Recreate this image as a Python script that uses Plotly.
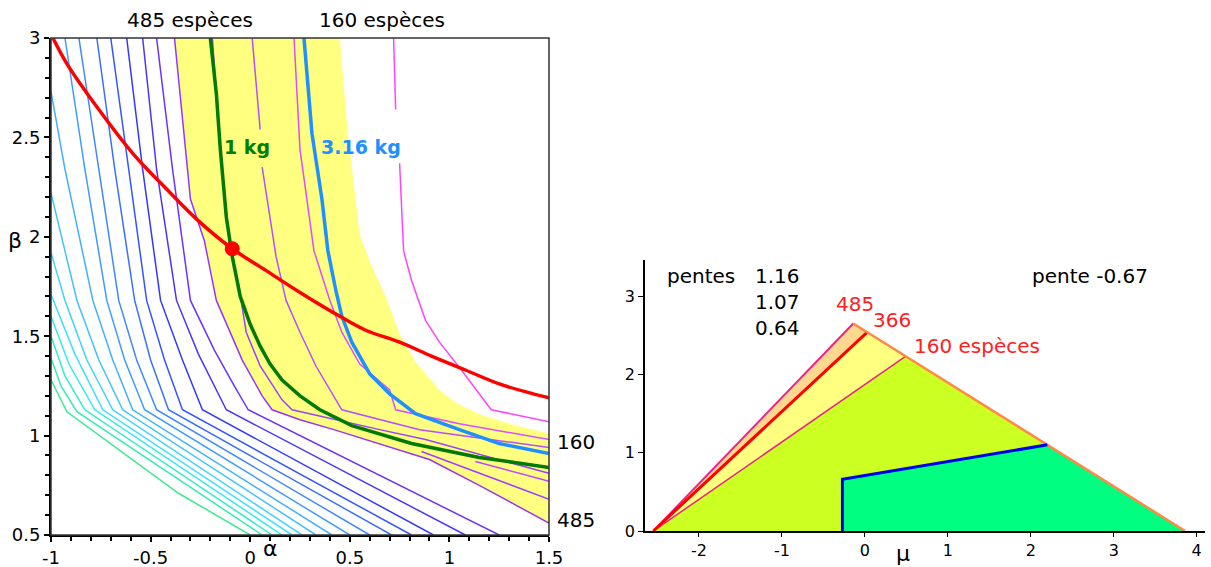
import plotly.graph_objects as go

W, H = 1211, 567

# ---------------- left panel data (alpha, beta) ----------------
contour_alpha = [
    [-1.00, -0.92, -0.36, 0.00],
    [-1.00, -0.95, -0.87, 0.06],
    [-1.00, -0.93, -0.83, 0.11],
    [-1.00, -0.91, -0.78, 0.16],
    [-1.00, -0.88, -0.74, 0.21],
    [-1.00, -0.93, -0.82, -0.69, 0.26],
    [-1.00, -0.87, -0.76, -0.64, 0.33],
    [-1.00, -0.93, -0.79, -0.69, -0.59, 0.41],
    [-0.93, -0.83, -0.72, -0.63, -0.53, 0.50],
    [-0.86, -0.76, -0.66, -0.57, -0.47, 0.60],
    [-0.77, -0.68, -0.58, -0.50, -0.41, 0.71],
    [-0.70, -0.61, -0.52, -0.43, -0.34, 0.81],
    [-0.62, -0.54, -0.45, -0.34, -0.24, 0.92],
    [-0.54, -0.47, -0.37, -0.26, -0.12, 1.08],
    [-0.47, -0.39, -0.30, -0.18, -0.08, -0.01, 1.25],
    [-0.38, -0.34, -0.30, -0.23, -0.17, -0.04, 0.06, 0.11, 0.25, 0.42, 0.90, 1.15, 1.50],
    [-0.19, -0.15, -0.10, -0.06, -0.02, 0.05, 0.16, 0.21, 0.65, 0.88, 1.50],
    [0.01, 0.05, None, 0.06, 0.13, 0.18, 0.25, 0.33, 0.46, 0.85, 1.50],
    [0.22, 0.25, 0.32, 0.40, 0.46, 0.55, 0.70, 0.73, 1.05, 1.50],
    [0.72, 0.73, None, 0.75, 0.77, 0.81, 0.88, 0.95, 1.06, 1.21, 1.50],
    [0.86, 1.50],
    [1.13, 1.50],
]
contour_beta = [
    [1.28, 1.12, 0.71, 0.50],
    [1.39, 1.25, 1.12, 0.50],
    [1.50, 1.30, 1.13, 0.50],
    [1.60, 1.36, 1.13, 0.50],
    [1.71, 1.41, 1.13, 0.50],
    [1.92, 1.68, 1.38, 1.13, 0.50],
    [2.22, 1.68, 1.38, 1.13, 0.50],
    [2.73, 2.34, 1.68, 1.38, 1.13, 0.50],
    [3.00, 2.34, 1.68, 1.38, 1.13, 0.50],
    [3.00, 2.34, 1.68, 1.38, 1.13, 0.50],
    [3.00, 2.34, 1.68, 1.38, 1.13, 0.50],
    [3.00, 2.34, 1.68, 1.38, 1.13, 0.50],
    [3.00, 2.34, 1.68, 1.38, 1.13, 0.50],
    [3.00, 2.34, 1.68, 1.41, 1.13, 0.50],
    [3.00, 2.34, 1.68, 1.43, 1.25, 1.13, 0.50],
    [3.00, 2.59, 2.19, 1.98, 1.68, 1.38, 1.20, 1.13, 1.08, 1.03, 0.88, 0.75, 0.56],
    [3.00, 2.44, 1.93, 1.77, 1.52, 1.35, 1.18, 1.13, 1.03, 0.98, 0.81],
    [3.00, 2.54, None, 2.35, 1.90, 1.68, 1.52, 1.35, 1.13, 1.03, 0.94],
    [3.00, 2.44, 1.93, 1.68, 1.52, 1.36, 1.23, 1.13, 1.06, 0.98],
    [3.00, 2.64, None, 2.37, 1.93, 1.78, 1.58, 1.47, 1.33, 1.13, 1.07],
    [0.92, 0.68],
    [0.87, 0.77],
]
contour_colors = [
    "#40E890", "#38EAB0", "#33EBCC", "#33EBEB", "#3AE0FF", "#3ED2FF",
    "#3FC2FF", "#3FB0FF", "#3F9CFF", "#3F88FF", "#3A70FF", "#3355FF",
    "#3338FF", "#4A33FF", "#6A33FF", "#9933FF", "#9A40FF", "#B84CFF",
    "#DD4CFF", "#FF44FF", "#A040FF", "#C044FF",
]

band_lower_alpha = [-0.38, -0.34, -0.30, -0.23, -0.17, -0.04, 0.06, 0.11, 0.25, 0.42, 0.90, 1.15, 1.50]
band_lower_beta = [3.00, 2.59, 2.19, 1.98, 1.68, 1.38, 1.20, 1.13, 1.08, 1.03, 0.88, 0.75, 0.56]
band_upper_alpha = [0.45, 0.49, 0.55, 0.61, 0.68, 0.75, 0.83, 0.95, 1.04, 1.17, 1.34, 1.50]
band_upper_beta = [3.00, 2.52, 2.01, 1.85, 1.70, 1.51, 1.37, 1.23, 1.16, 1.10, 1.05, 1.01]

kg1_alpha = [-0.20, -0.17, -0.15, -0.12, -0.09, -0.05, 0.00, 0.05, 0.10, 0.16, 0.25, 0.35, 0.51, 0.81, 1.15, 1.50]
kg1_beta = [3.00, 2.72, 2.44, 2.10, 1.90, 1.70, 1.56, 1.45, 1.36, 1.28, 1.20, 1.13, 1.05, 0.96, 0.89, 0.84]
kg316_alpha = [0.27, 0.31, 0.36, 0.39, 0.43, 0.46, 0.51, 0.60, 0.70, 0.83, 1.05, 1.25, 1.50]
kg316_beta = [3.00, 2.52, 2.19, 1.93, 1.73, 1.60, 1.47, 1.31, 1.21, 1.11, 1.03, 0.96, 0.91]
red_alpha = [-0.99, -0.92, -0.76, -0.59, -0.42, -0.26, -0.09, 0.08, 0.25, 0.45, 0.58, 0.75, 0.91, 1.08, 1.25, 1.42, 1.50]
red_beta = [3.00, 2.87, 2.64, 2.42, 2.24, 2.08, 1.94, 1.83, 1.72, 1.60, 1.53, 1.47, 1.40, 1.33, 1.26, 1.21, 1.19]
optimum = (-0.09, 1.94)

alpha_ticks = [-1, -0.5, 0, 0.5, 1, 1.5]
alpha_labels = ["-1", "-0.5", "0", "0.5", "1", "1.5"]
beta_ticks = [0.5, 1, 1.5, 2, 2.5, 3]
beta_labels = ["0.5", "1", "1.5", "2", "2.5", "3"]

# ---------------- right panel data (mu, height) ----------------
left_vertex = (-2.55, 0.0)
apex_485 = (-0.14, 2.65)
point_366 = (0.03, 2.54)
point_160 = (0.49, 2.23)
right_vertex = (3.86, 0.0)
blue_mu = [-0.27, -0.27, 2.20]
blue_h = [0.00, 0.66, 1.10]
mu_ticks = [-2, -1, 0, 1, 2, 3, 4]
mu_labels = ["-2", "-1", "0", "1", "2", "3", "4"]
h_ticks = [0, 1, 2, 3]
h_labels = ["0", "1", "2", "3"]

fig = go.Figure()

# yellow band
fig.add_trace(go.Scatter(
    x=band_lower_alpha + band_upper_alpha[::-1],
    y=band_lower_beta + band_upper_beta[::-1],
    fill="toself", fillcolor="#FFFF80", line=dict(width=0), mode="lines",
    xaxis="x", yaxis="y", hoverinfo="skip"))

for xs, ys, c in zip(contour_alpha, contour_beta, contour_colors):
    fig.add_trace(go.Scatter(x=xs, y=ys, mode="lines", line=dict(color=c, width=1.5),
                             xaxis="x", yaxis="y", connectgaps=False))

fig.add_trace(go.Scatter(x=kg1_alpha, y=kg1_beta, mode="lines",
                         line=dict(color="#007A00", width=3.5), xaxis="x", yaxis="y"))
fig.add_trace(go.Scatter(x=kg316_alpha, y=kg316_beta, mode="lines",
                         line=dict(color="#1E90FF", width=3.5), xaxis="x", yaxis="y"))
fig.add_trace(go.Scatter(x=red_alpha, y=red_beta, mode="lines", line_shape="spline",
                         line=dict(color="#FF0000", width=3.5), xaxis="x", yaxis="y"))
fig.add_trace(go.Scatter(x=[optimum[0]], y=[optimum[1]], mode="markers",
                         marker=dict(color="#FF0000", size=15), xaxis="x", yaxis="y"))

# right panel regions
fig.add_trace(go.Scatter(x=[left_vertex[0], point_160[0], right_vertex[0]],
                         y=[left_vertex[1], point_160[1], right_vertex[1]],
                         fill="toself", fillcolor="#CCFF22", line=dict(width=0), mode="lines",
                         xaxis="x2", yaxis="y2"))
fig.add_trace(go.Scatter(x=[left_vertex[0], point_366[0], point_160[0]],
                         y=[left_vertex[1], point_366[1], point_160[1]],
                         fill="toself", fillcolor="#FFFF80", line=dict(width=0), mode="lines",
                         xaxis="x2", yaxis="y2"))
fig.add_trace(go.Scatter(x=[left_vertex[0], apex_485[0], point_366[0]],
                         y=[left_vertex[1], apex_485[1], point_366[1]],
                         fill="toself", fillcolor="#FFD890", line=dict(width=0), mode="lines",
                         xaxis="x2", yaxis="y2"))
fig.add_trace(go.Scatter(x=blue_mu + [right_vertex[0]], y=blue_h + [right_vertex[1]],
                         fill="toself", fillcolor="#00FF80", line=dict(width=0), mode="lines",
                         xaxis="x2", yaxis="y2"))
fig.add_trace(go.Scatter(x=[left_vertex[0], point_160[0]], y=[left_vertex[1], point_160[1]],
                         mode="lines", line=dict(color="#E8228A", width=1.5), xaxis="x2", yaxis="y2"))
fig.add_trace(go.Scatter(x=[left_vertex[0], apex_485[0]], y=[left_vertex[1], apex_485[1]],
                         mode="lines", line=dict(color="#F0208A", width=2), xaxis="x2", yaxis="y2"))
fig.add_trace(go.Scatter(x=[left_vertex[0], point_366[0]], y=[left_vertex[1], point_366[1]],
                         mode="lines", line=dict(color="#FF0000", width=3), xaxis="x2", yaxis="y2"))
fig.add_trace(go.Scatter(x=[apex_485[0], right_vertex[0]], y=[apex_485[1], right_vertex[1]],
                         mode="lines", line=dict(color="#FF8844", width=2.5), xaxis="x2", yaxis="y2"))
fig.add_trace(go.Scatter(x=blue_mu, y=blue_h, mode="lines",
                         line=dict(color="#0000EE", width=3), xaxis="x2", yaxis="y2"))

FONT = "DejaVu Sans"


def P(px, py):
    return px / W, 1 - py / H


ann = []


def text(px, py, s, size=20, color="black", xanchor="center", bold=False):
    x, y = P(px, py)
    if bold:
        s = "<b>" + s + "</b>"
    ann.append(dict(x=x, y=y, xref="paper", yref="paper", text=s, showarrow=False,
                    xanchor=xanchor, yanchor="middle",
                    font=dict(family=FONT, size=size, color=color)))


text(190, 20, "485 espèces")
text(382, 20, "160 espèces")
text(247, 147, "1 kg", size=19, color="#008000", bold=True)
text(361, 147, "3.16 kg", size=19, color="#1E90FF", bold=True)
text(576, 442, "160")
text(576, 520, "485")
text(15, 240, "β", size=22)
text(270, 548, "α", size=22)
text(903, 553, "μ", size=22)
text(665, 276, "pentes", xanchor="left")
text(753, 276, "1.16", xanchor="left")
text(753, 302, "1.07", xanchor="left")
text(753, 328, "0.64", xanchor="left")
text(1030, 276, "pente -0.67", xanchor="left")
text(855, 304, "485", color="#FF2020")
text(892, 320, "366", color="#FF2020")
text(912, 346, "160 espèces", color="#FF2020", xanchor="left")

tickfont = dict(family=FONT, size=18, color="black")
tickfont2 = dict(family=FONT, size=16, color="black")

fig.update_layout(
    width=W, height=H, margin=dict(l=0, r=0, t=0, b=0, autoexpand=False),
    paper_bgcolor="white", plot_bgcolor="white", showlegend=False,
    annotations=ann,
    xaxis=dict(domain=[51 / W, 549 / W], range=[-1, 1.5], tickvals=alpha_ticks, ticktext=alpha_labels,
               showgrid=False, zeroline=False, showline=True, linecolor="black", linewidth=2,
               ticks="outside", ticklen=5, tickwidth=1.5, tickcolor="black", tickfont=tickfont,
               minor=dict(dtick=0.1, ticks="outside", ticklen=4, tickcolor="black"), anchor="y",
               automargin=False),
    yaxis=dict(domain=[1 - 535 / H, 1 - 38 / H], range=[0.5, 3], tickvals=beta_ticks, ticktext=beta_labels,
               showgrid=False, zeroline=False, showline=True, linecolor="black", linewidth=2,
               ticks="outside", ticklen=5, tickwidth=1.5, tickcolor="black", tickfont=tickfont,
               minor=dict(dtick=0.1, ticks="outside", ticklen=4, tickcolor="black"), anchor="x",
               automargin=False),
    xaxis2=dict(domain=[645 / W, 1205 / W], range=[-2.65, 4.1], tickvals=mu_ticks, ticktext=mu_labels,
                showgrid=False, zeroline=False, showline=True, linecolor="black", linewidth=1.5,
                ticks="outside", ticklen=4, tickcolor="black", tickfont=tickfont2, anchor="y2",
                automargin=False),
    yaxis2=dict(domain=[1 - 531 / H, 1 - 260 / H], range=[0, 3.46], tickvals=h_ticks, ticktext=h_labels,
                showgrid=False, zeroline=False, showline=True, linecolor="black", linewidth=1.5,
                ticks="outside", ticklen=5, tickcolor="black", tickfont=tickfont2, anchor="x2",
                automargin=False),
    shapes=[dict(type="rect", xref="paper", yref="paper", x0=51 / W, x1=549 / W,
                 y0=1 - 535 / H, y1=1 - 38 / H, line=dict(color="#333333", width=1.5), layer="above")],
)

fig.write_html("out.html", config={"displayModeBar": False},
               post_script="document.body.style.margin='0';document.body.style.overflow='hidden';")
